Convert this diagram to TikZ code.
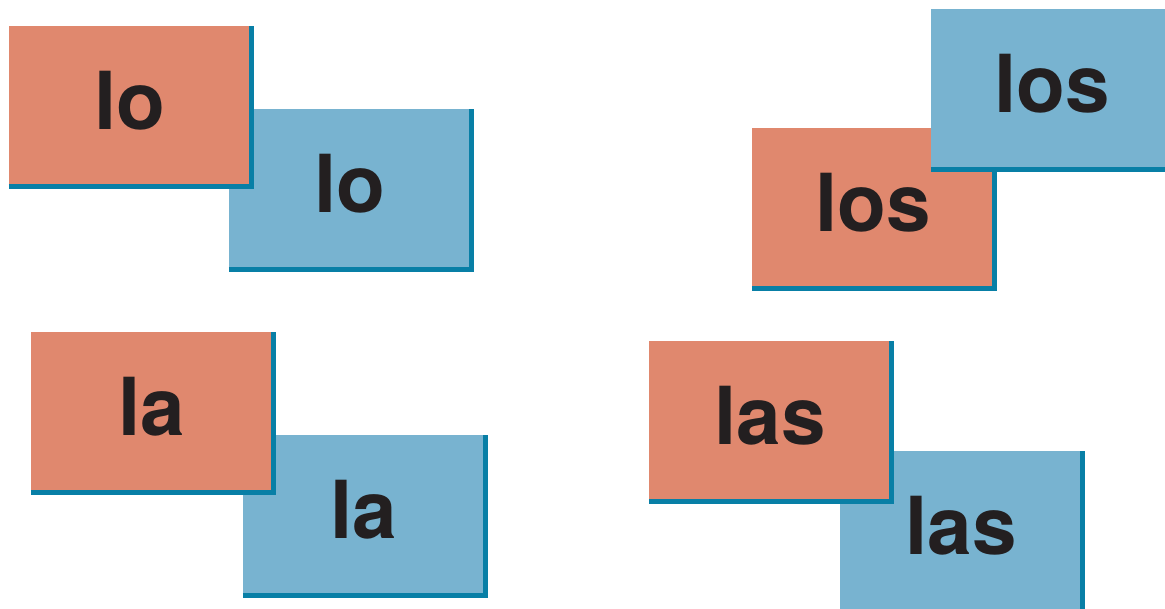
\documentclass[tikz,border=0pt]{standalone}
\usepackage{fontspec}
\setmainfont{TeX Gyre Heros}
\definecolor{salmon}{RGB}{224,136,110}
\definecolor{skyblue}{RGB}{120,179,208}
\definecolor{tealedge}{RGB}{8,127,166}
\definecolor{inkblack}{RGB}{35,31,32}

\tikzset{
  card/.style={rectangle,inner sep=0pt,minimum width=242pt,minimum height=160pt,
    text=inkblack,font=\fontsize{80}{96}\selectfont\bfseries,
    text height=58pt,text depth=12pt},
  orangecard/.style={card,fill=salmon},
  bluecard/.style={card,fill=skyblue},
  cardedge/.style={draw=tealedge,line width=5pt,line join=miter},
}

\begin{document}
\begin{tikzpicture}[x=1pt,y=-1pt]
\useasboundingbox (0,0) rectangle (1165,608);
\clip (0,0) rectangle (1165,608);

% lo
\node[bluecard] (lo-b) at (350,189) {lo};
\draw[cardedge] (lo-b.south west) -- (lo-b.south east) -- (lo-b.north east);
\node[orangecard] (lo-o) at (130,106) {lo};
\draw[cardedge] (lo-o.south west) -- (lo-o.south east) -- (lo-o.north east);

% la
\node[bluecard] (la-b) at (364,515) {la};
\draw[cardedge] (la-b.south west) -- (la-b.south east) -- (la-b.north east);
\node[orangecard] (la-o) at (152,412) {la};
\draw[cardedge] (la-o.south west) -- (la-o.south east) -- (la-o.north east);

% los
\node[orangecard] (los-o) at (873,208) {los};
\draw[cardedge] (los-o.south west) -- (los-o.south east) -- (los-o.north east);
\node[bluecard] (los-b) at (1052,89) {los};
\draw[cardedge] (los-b.south west) -- (los-b.south east) -- (los-b.north east);

% las
\node[bluecard] (las-b) at (961,531) {las};
\draw[cardedge] (las-b.south west) -- (las-b.south east) -- (las-b.north east);
\node[orangecard] (las-o) at (770,421) {las};
\draw[cardedge] (las-o.south west) -- (las-o.south east) -- (las-o.north east);
\end{tikzpicture}
\end{document}
